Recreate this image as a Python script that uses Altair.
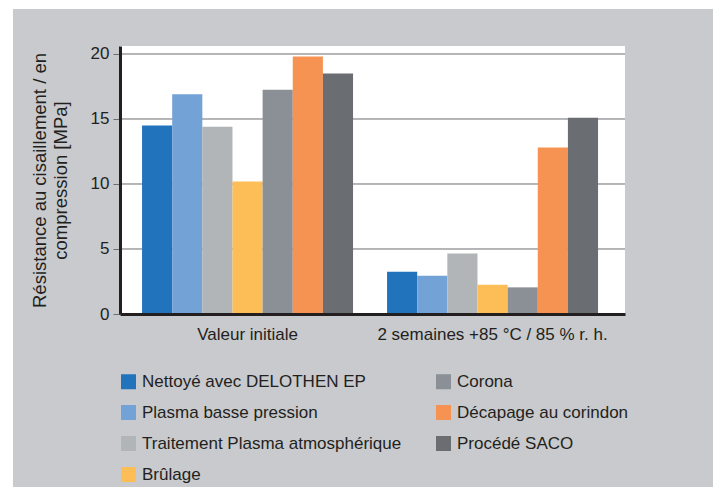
import altair as alt
import pandas as pd

groups = ["Valeur initiale", "2 semaines +85 °C / 85 % r. h."]
methods = [
    "Nettoyé avec DELOTHEN EP",
    "Plasma basse pression",
    "Traitement Plasma atmosphérique",
    "Brûlage",
    "Corona",
    "Décapage au corindon",
    "Procédé SACO",
]
initial_values = [14.5, 16.9, 14.4, 10.2, 17.25, 19.8, 18.5]
aged_values = [3.25, 2.95, 4.65, 2.25, 2.05, 12.8, 15.1]
colors = ["#2173bc", "#72a2d6", "#b1b5b8", "#fdbd57", "#8b8f96", "#f69352", "#6a6d71"]
tick_values = [0, 5, 10, 15, 20]
grid_values = [5, 10, 15, 20]
y_title = ["Résistance au cisaillement / en", "compression [MPa]"]

rows = []
for g, vals in zip(groups, [initial_values, aged_values]):
    for m, v in zip(methods, vals):
        rows.append({"group": g, "method": m, "value": v})
df = pd.DataFrame(rows)

FONT = "Liberation Sans"
TXT = "#231f20"
W, H = 505, 268

y_scale = alt.Scale(domain=[0, 20.615], nice=False, zero=True)
y_axis = alt.Axis(
    title=y_title,
    values=tick_values,
    grid=False,
    domainColor=TXT,
    domainWidth=3,
    tickColor="#6d6e71",
    tickSize=7,
    tickWidth=1,
    labelFontSize=17,
    labelColor=TXT,
    labelPadding=4,
    titleFontSize=18.5,
    titleFontWeight="normal",
    titleColor=TXT,
    titlePadding=20,
    zindex=1,
)

bg = alt.Chart(alt.Data(values=[{"a": 1}])).mark_rect(color="#c8cacd").encode(
    x=alt.value(-107), x2=alt.value(593), y=alt.value(-37), y2=alt.value(470)
)
white = alt.Chart(alt.Data(values=[{"a": 1}])).mark_rect(color="white").encode(
    x=alt.value(0), x2=alt.value(W), y=alt.value(0), y2=alt.value(H)
)
grid = alt.Chart(pd.DataFrame({"v": grid_values})).mark_rule(
    color="#6d6e71", strokeWidth=1
).encode(
    y=alt.Y("v:Q", scale=y_scale, axis=y_axis),
    x=alt.value(0),
    x2=alt.value(W),
)

bars = alt.Chart(df).mark_bar().encode(
    x=alt.X(
        "group:N",
        sort=groups,
        scale=alt.Scale(paddingInner=0.1388, paddingOuter=0.1, align=0.45),
        axis=alt.Axis(
            title=None,
            labelAngle=0,
            ticks=False,
            domainColor=TXT,
            domainWidth=3,
            labelFontSize=17,
            labelColor=TXT,
            labelPadding=12,
            labelLimit=400,
            zindex=1,
        ),
    ),
    xOffset=alt.XOffset(
        "method:N", sort=methods, scale=alt.Scale(paddingInner=0, paddingOuter=0)
    ),
    y=alt.Y("value:Q", scale=y_scale, axis=y_axis),
    color=alt.Color(
        "method:N",
        scale=alt.Scale(domain=methods, range=colors),
        legend=alt.Legend(
            title=None,
            orient="none",
            legendX=0,
            legendY=327,
            columns=2,
            columnPadding=33,
            rowPadding=13,
            symbolType="square",
            symbolSize=225,
            symbolStrokeWidth=0,
            symbolOpacity=1,
            labelFontSize=17,
            labelColor=TXT,
            labelOffset=5,
            labelLimit=400,
            padding=0,
        ),
    ),
)

chart = (
    alt.layer(bg, white, grid, bars)
    .properties(
        width=W,
        height=H,
        autosize="none",
        padding={"left": 112, "top": 38, "right": 90, "bottom": 173},
        background="white",
    )
    .configure(font=FONT)
    .configure_view(stroke=None)
)

chart.save("out.html", embed_options={"renderer": "svg", "actions": False})
